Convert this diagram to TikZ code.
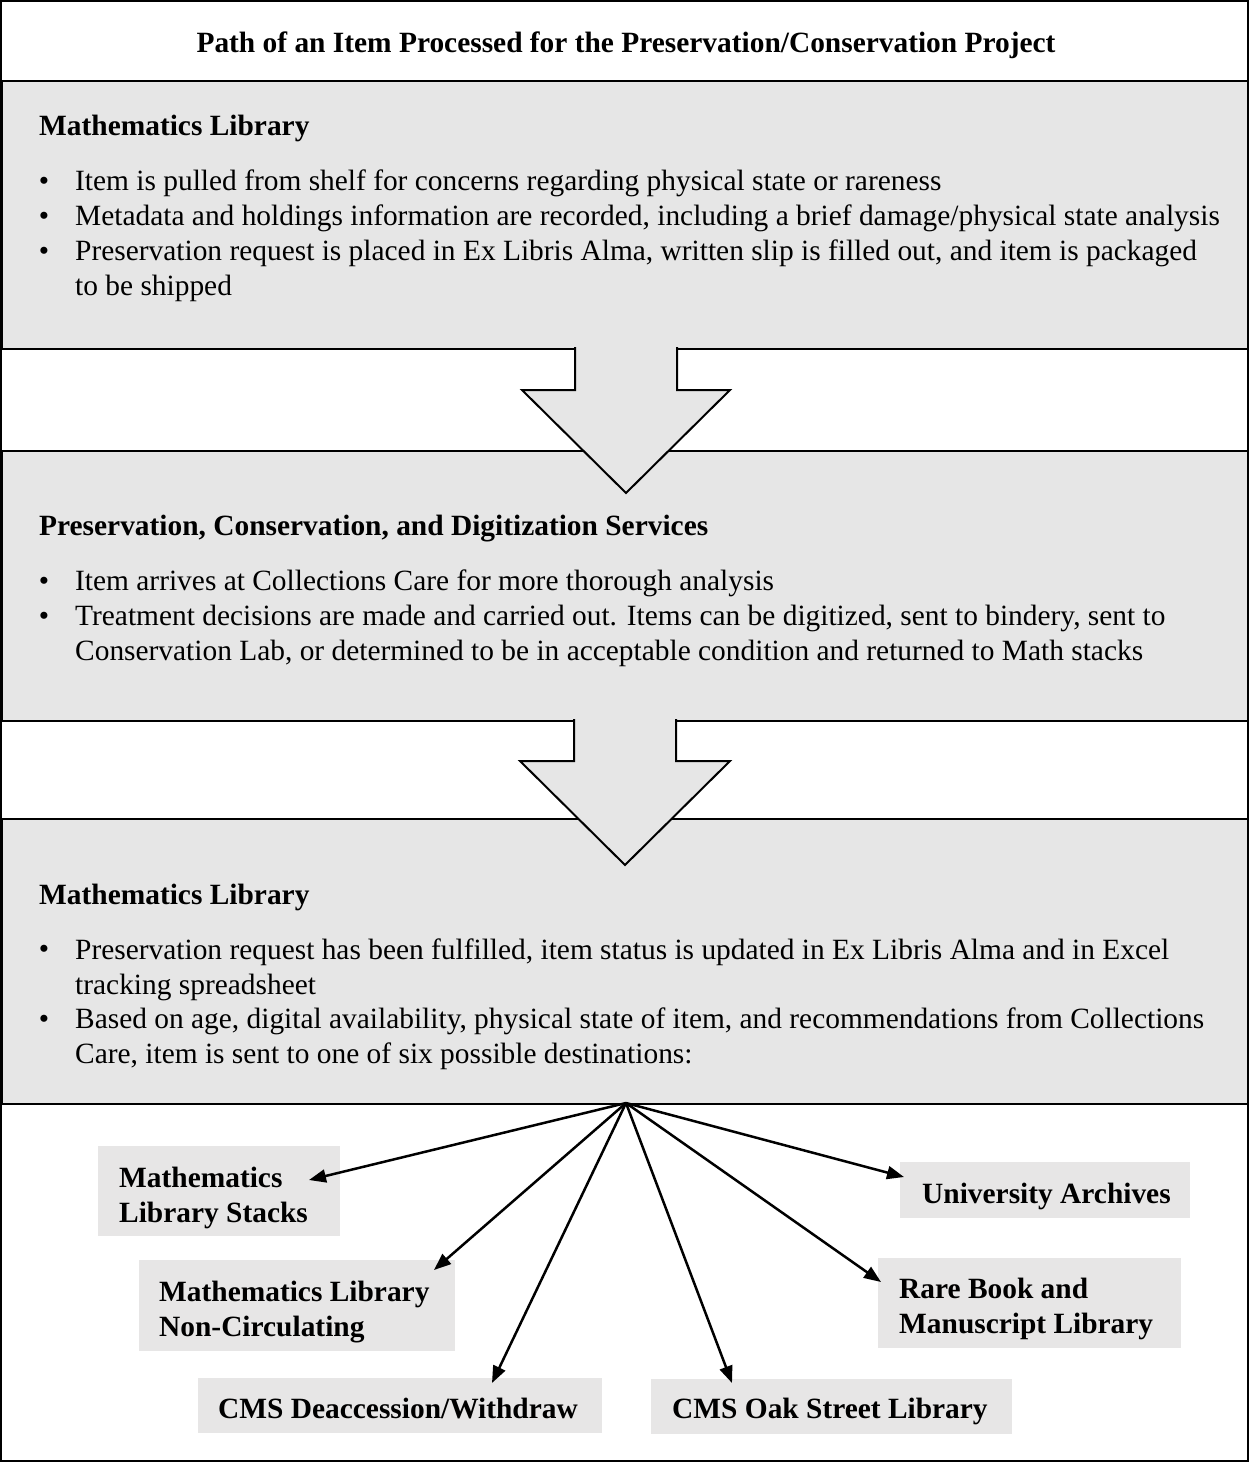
\documentclass[tikz,border=0pt]{standalone}
\usepackage{fontspec}
\setmainfont{Liberation Serif}
\usetikzlibrary{arrows.meta,calc}
\definecolor{boxgray}{RGB}{230,230,230}
\definecolor{labgray}{RGB}{231,230,230}
\newcommand{\fsz}{\fontsize{29.4}{35}\selectfont}
\begin{document}
\begin{tikzpicture}[x=1pt,y=-1pt,
  txt/.style={inner sep=0pt, anchor=base west, align=left, font=\fsz},
  hd/.style={inner sep=0pt, anchor=base west, align=left, font=\fsz\bfseries},
  bul/.style={inner sep=0pt, anchor=base, font=\fsz},
  panel/.style={draw, line width=2pt, fill=boxgray, anchor=north west, inner sep=0pt, minimum width=1247pt},
  dest/.style={fill=labgray, anchor=north west, inner sep=0pt},
  destlab/.style={inner sep=0pt, anchor=base west, align=left, font=\fsz\bfseries},
  fanarrow/.style={line width=2.5pt, -{Triangle[length=17pt,width=13pt]}},
  bigfill/.style={fill=boxgray},
  bigline/.style={line width=2pt, line join=miter}
]
\useasboundingbox (0,0) rectangle (1249,1462);
\fill[white] (0,0) rectangle (1249,1462);

% title
\node[inner sep=0pt, anchor=base, font=\fsz\bfseries] (title) at (626,52)
  {Path of an Item Processed for the Preservation/Conservation Project};

% panels
\node[panel, minimum height=268pt] (box1) at (1,80) {};
\node[panel, minimum height=270pt] (box2) at (1,450) {};
\node[panel, minimum height=285pt] (box3) at (1,818) {};

% big arrows
\fill[bigfill] (575,345) -- (575,390) -- (522,390) -- (626,493) -- (730,390) -- (677,390) -- (677,345) -- cycle;
\draw[bigline] (575,347) -- (575,390) -- (522,390) -- (626,493) -- (730,390) -- (677,390) -- (677,347);
\fill[bigfill] (574,717) -- (574,761) -- (520,761) -- (625,865) -- (730,761) -- (676,761) -- (676,717) -- cycle;
\draw[bigline] (574,719) -- (574,761) -- (520,761) -- (625,865) -- (730,761) -- (676,761) -- (676,719);

% box 1 text
\node[hd] (h1) at (39,135) {Mathematics Library};
\node[bul] (u1a) at (44,190) {•};
\node[txt] (t1a) at (75,190) {Item is pulled from shelf for concerns regarding physical state or rareness};
\node[bul] (u1b) at (44,225) {•};
\node[txt] (t1b) at (75,225) {Metadata and holdings information are recorded, including a brief damage/physical state analysis};
\node[bul] (u1c) at (44,260) {•};
\node[txt] (t1c) at (75,295) {Preservation request is placed in Ex Libris Alma, written slip is filled out, and item is packaged\\to be shipped};

% box 2 text
\node[hd] (h2) at (39,535) {Preservation, Conservation, and Digitization Services};
\node[bul] (u2a) at (44,590) {•};
\node[txt] (t2a) at (75,590) {Item arrives at Collections Care for more thorough analysis};
\node[bul] (u2b) at (44,625) {•};
\node[txt] (t2b) at (75,660) {Treatment decisions are made and carried out. Items can be digitized, sent to bindery, sent to\\Conservation Lab, or determined to be in acceptable condition and returned to Math stacks};

% box 3 text
\node[hd] (h3) at (39,904) {Mathematics Library};
\node[bul] (u3a) at (44,958) {•};
\node[txt] (t3a) at (75,994) {Preservation request has been fulfilled, item status is updated in Ex Libris Alma and in Excel\\tracking spreadsheet};
\node[bul] (u3b) at (44,1028) {•};
\node[txt] (t3b) at (75,1063) {Based on age, digital availability, physical state of item, and recommendations from Collections\\Care, item is sent to one of six possible destinations:};

% destinations
\node[dest, minimum width=242pt, minimum height=90pt] (stacks) at (98,1146) {};
\node[destlab] (stacksT) at (119,1222) {Mathematics\\Library Stacks};
\node[dest, minimum width=316pt, minimum height=91pt] (noncirc) at (139,1260) {};
\node[destlab] (noncircT) at (159,1336) {Mathematics Library\\Non-Circulating};
\node[dest, minimum width=404pt, minimum height=55pt] (deacc) at (198,1378) {};
\node[destlab] (deaccT) at (218,1418) {CMS Deaccession/Withdraw};
\node[dest, minimum width=361pt, minimum height=55pt] (oak) at (651,1379) {};
\node[destlab] (oakT) at (672,1418) {CMS Oak Street Library};
\node[dest, minimum width=290pt, minimum height=56pt] (univ) at (900,1162) {};
\node[destlab] (univT) at (922,1203) {University Archives};
\node[dest, minimum width=303pt, minimum height=90pt] (rare) at (878,1258) {};
\node[destlab] (rareT) at (899,1333) {Rare Book and\\Manuscript Library};

% fan connectors
\coordinate (fan) at (626,1103);
\draw[fanarrow] (fan) -- ($(stacks.north west)+(211,34)$);
\draw[fanarrow] (fan) -- ($(noncirc.north west)+(295,10)$);
\draw[fanarrow] (fan) -- ($(deacc.north west)+(294,5)$);
\draw[fanarrow] (fan) -- ($(oak.north west)+(81,4)$);
\draw[fanarrow] (fan) -- ($(univ.north west)+(4,15)$);
\draw[fanarrow] (fan) -- ($(rare.north west)+(3,24)$);

% outer border
\draw[line width=2pt] (1,1) rectangle (1248,1461);
\end{tikzpicture}
\end{document}
